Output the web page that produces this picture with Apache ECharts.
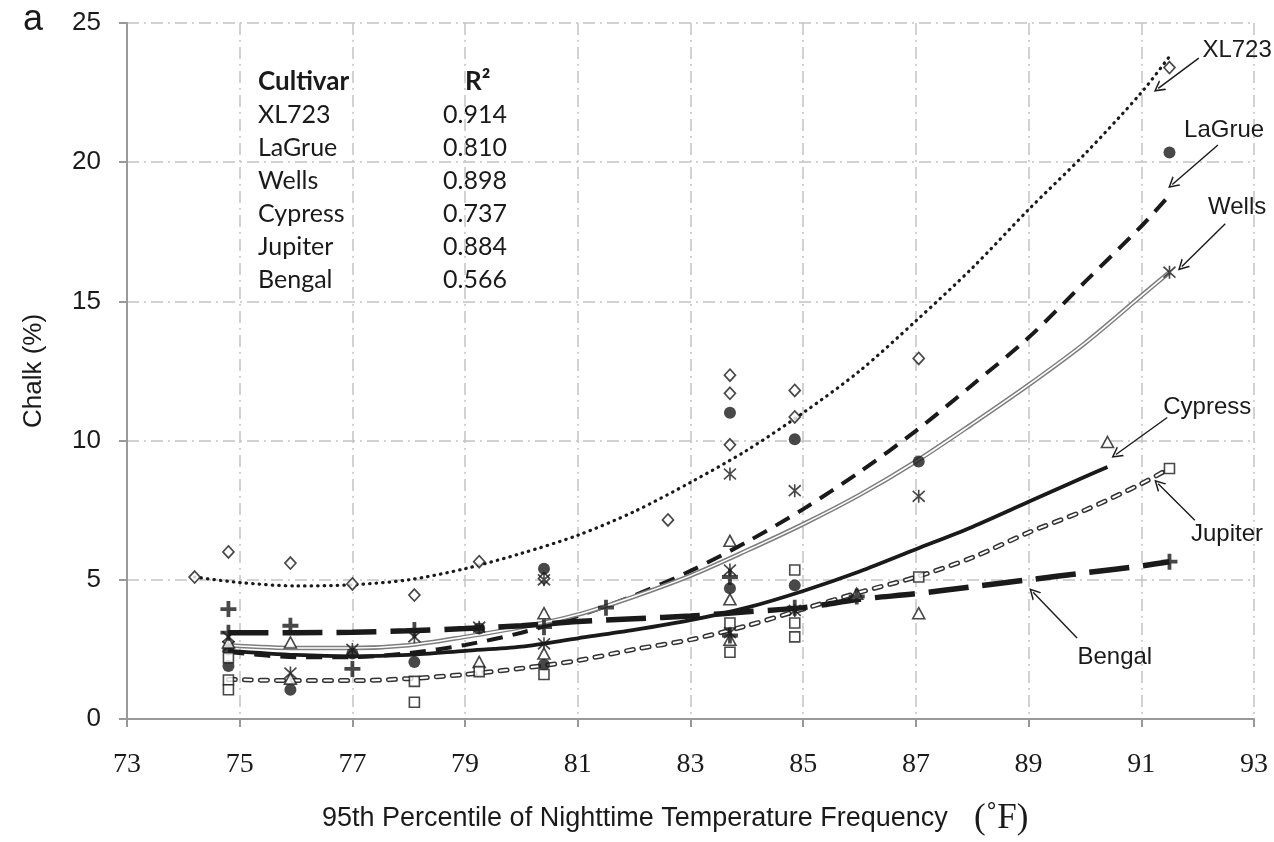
<!DOCTYPE html>
<html>
<head>
<meta charset="utf-8">
<title>Chalk vs nighttime temperature</title>
<script src="https://cdn.jsdelivr.net/npm/echarts@6/dist/echarts.min.js"></script>
<style>
  html, body { margin: 0; padding: 0; background: #fff; }
  #main { width: 1274px; height: 842px; }
</style>
</head>
<body>
<div id="main"></div>
<script>
// inset table
var cultivars = ['XL723', 'LaGrue', 'Wells', 'Cypress', 'Jupiter', 'Bengal'];
var r2Values = ['0.914', '0.810', '0.898', '0.737', '0.884', '0.566'];

// axis ticks
var xTicks = [73, 75, 77, 79, 81, 83, 85, 87, 89, 91, 93];
var yTicks = [0, 5, 10, 15, 20, 25];

// observed chalk (%) per cultivar, [temp, chalk]
var xl723Pts = [[74.2, 5.1], [74.8, 6.0], [75.9, 5.6], [77.0, 4.85], [78.1, 4.45], [79.25, 5.65], [80.4, 5.05],
    [82.6, 7.15], [83.7, 12.35], [83.7, 11.7], [83.7, 9.85], [84.85, 11.8], [84.85, 10.85], [87.05, 12.95], [91.5, 23.4]];
var lagruePts = [[74.8, 1.9], [74.8, 2.5], [75.9, 1.05], [77.0, 2.35], [78.1, 2.05], [79.25, 3.25], [80.4, 5.4], [80.4, 1.95],
    [83.7, 11.0], [83.7, 4.7], [84.85, 10.05], [84.85, 4.8], [87.05, 9.25], [91.5, 20.35]];
var wellsPts = [[74.8, 2.95], [74.8, 2.6], [75.9, 1.65], [77.0, 2.5], [78.1, 2.95], [79.25, 3.3], [80.4, 5.0], [80.4, 2.7],
    [83.7, 8.8], [83.7, 5.35], [83.7, 3.1], [84.85, 8.2], [84.85, 3.9], [87.05, 8.0], [91.5, 16.05]];
var cypressPts = [[74.8, 2.75], [75.9, 2.75], [75.9, 1.45], [79.25, 2.05], [80.4, 3.8], [80.4, 2.35], [83.7, 6.4], [83.7, 4.3],
    [83.7, 2.85], [85.95, 4.5], [87.05, 3.8], [90.4, 9.95]];
var jupiterPts = [[74.8, 2.2], [74.8, 1.4], [74.8, 1.05], [78.1, 1.35], [78.1, 0.6], [79.25, 1.7], [80.4, 1.6], [83.7, 3.45],
    [83.7, 2.4], [84.85, 5.35], [84.85, 3.45], [84.85, 2.95], [87.05, 5.1], [91.5, 9.0]];
var bengalPts = [[74.8, 3.95], [74.8, 3.1], [75.9, 3.35], [77.0, 1.8], [78.1, 3.2], [80.4, 3.3], [81.5, 4.0], [83.7, 5.1],
    [83.7, 3.0], [84.85, 4.0], [85.95, 4.4], [91.5, 5.65]];

// fitted trend curves
var xl723Fit = [[74.2, 5.1], [75, 4.9], [76, 4.78], [77, 4.82], [78, 5.0], [79, 5.4], [80, 5.95], [81, 6.6], [82, 7.45],
    [83, 8.5], [84, 9.65], [85, 11.0], [86, 12.5], [87, 14.3], [88, 16.2], [89, 18.3], [90, 20.3], [91, 22.5], [91.5, 23.8]];
var lagrueFit = [[74.8, 2.41], [76, 2.22], [77, 2.22], [78, 2.37], [79, 2.66], [80, 3.1], [81, 3.7], [82, 4.44], [83, 5.32],
    [84, 6.36], [85, 7.54], [86, 8.87], [87, 10.35], [88, 12.0], [89, 13.7], [90, 15.7], [91, 17.7], [91.45, 18.7]];
var wellsFit = [[74.8, 2.65], [76, 2.55], [77, 2.55], [78, 2.65], [79, 2.95], [80, 3.3], [81, 3.75], [82, 4.4], [83, 5.15],
    [84, 6.05], [85, 7.0], [86, 8.05], [87, 9.25], [88, 10.6], [89, 12.0], [90, 13.5], [91, 15.2], [91.5, 16.05]];
var cypressFit = [[74.8, 2.45], [76, 2.3], [77, 2.25], [78, 2.3], [79, 2.45], [80, 2.6], [81, 2.9], [82, 3.2], [83, 3.55],
    [84, 4.0], [85, 4.6], [86, 5.3], [87, 6.1], [88, 6.9], [89, 7.8], [90, 8.7], [90.4, 9.05]];
var jupiterFit = [[74.8, 1.42], [76, 1.38], [77, 1.38], [78, 1.45], [79, 1.6], [80, 1.82], [81, 2.1], [82, 2.5], [83, 2.85],
    [84, 3.35], [85, 3.95], [86, 4.55], [87, 5.1], [88, 5.8], [89, 6.7], [90, 7.5], [91, 8.45], [91.5, 9.0]];
var bengalFit = [[74.8, 3.1], [76, 3.1], [77, 3.12], [78, 3.17], [79, 3.25], [80, 3.35], [81, 3.5], [82, 3.6], [83, 3.7],
    [84, 3.85], [85, 4.0], [86, 4.3], [87, 4.5], [88, 4.75], [89, 5.0], [90, 5.25], [91, 5.5], [91.5, 5.65]];

var INK = '#1a1a1a';
var arrowHead = 'path://M0,10 L5,0 L10,10 L8.6,10 L5,2.8 L1.4,10 Z';

// callout: label position, arrow start, arrow end (data coords)
function callout(name, textAt, from, to) {
    return {
        markLine: {
            silent: true, animation: false,
            symbol: ['none', arrowHead], symbolSize: [12, 11],
            lineStyle: { color: INK, width: 1.4, type: 'solid' },
            label: { show: false },
            data: [[{ coord: from }, { coord: to }]]
        },
        markPoint: {
            silent: true, animation: false,
            symbol: 'circle', symbolSize: 1,
            itemStyle: { color: 'rgba(0,0,0,0)' },
            label: { show: true, position: 'inside', formatter: name, color: INK, fontSize: 24, fontFamily: 'Liberation Sans' },
            data: [{ coord: textAt }]
        }
    };
}

function fitSeries(name, data, lineStyle, extra) {
    var s = {
        name: name, type: 'line', data: data, smooth: 0.3, showSymbol: false, symbol: 'none',
        lineStyle: lineStyle, z: 2, silent: true, animation: false
    };
    if (extra) { for (var k in extra) s[k] = extra[k]; }
    return s;
}

function pointSeries(name, data, symbol, size, itemStyle) {
    return { name: name, type: 'scatter', data: data, symbol: symbol, symbolSize: size, itemStyle: itemStyle, z: 4, animation: false };
}

var series = [
    fitSeries('XL723 fit', xl723Fit, { color: INK, width: 3.2, type: [0.5, 6], cap: 'round' },
        callout('XL723', [92.7, 24.03], [92.02, 23.74], [91.3, 22.65])),
    fitSeries('LaGrue fit', lagrueFit, { color: INK, width: 4, type: [16, 10] },
        callout('LaGrue', [92.47, 21.16], [92.36, 20.62], [91.55, 19.2])),
    fitSeries('Wells fit outer', wellsFit, { color: '#7d7d7d', width: 4.5 },
        callout('Wells', [92.7, 18.36], [92.49, 17.79], [91.72, 16.25])),
    fitSeries('Wells fit inner', wellsFit, { color: '#ffffff', width: 1.6 }),
    fitSeries('Cypress fit', cypressFit, { color: INK, width: 3.8 },
        callout('Cypress', [92.17, 11.19], [91.46, 10.83], [90.55, 9.5])),
    fitSeries('Jupiter fit outer', jupiterFit, { color: '#333', width: 5, type: [7, 9], cap: 'round' },
        callout('Jupiter', [92.52, 6.64], [91.95, 7.14], [91.3, 8.45])),
    fitSeries('Jupiter fit inner', jupiterFit, { color: '#ffffff', width: 2, type: [7, 9], cap: 'round' }),
    fitSeries('Bengal fit', bengalFit, { color: INK, width: 5.5, type: [40, 14] },
        callout('Bengal', [90.53, 2.22], [89.86, 2.91], [89.08, 4.55])),

    pointSeries('XL723', xl723Pts, 'diamond', [11, 12], { color: '#fff', borderColor: INK, borderWidth: 1.7 }),
    pointSeries('LaGrue', lagruePts, 'circle', 12, { color: INK }),
    pointSeries('Wells', wellsPts, 'path://M0,0L10,10M10,0L0,10M5,-1L5,11', [12, 13],
        { color: 'none', borderColor: INK, borderWidth: 1.7 }),
    pointSeries('Cypress', cypressPts, 'triangle', [12, 11], { color: '#fff', borderColor: INK, borderWidth: 1.6 }),
    pointSeries('Jupiter', jupiterPts, 'rect', 10, { color: '#fff', borderColor: INK, borderWidth: 1.6 }),
    pointSeries('Bengal', bengalPts, 'path://M5,0L5,10M0,5L10,5', 16, { color: 'none', borderColor: INK, borderWidth: 3.8 })
];

// inset table text
var tableText = [
    { type: 'text', left: 258, top: 69, style: { text: 'Cultivar', font: 'bold 26px Lato', fill: INK } },
    { type: 'text', left: 465, top: 69, style: { text: 'R²', font: 'bold 26px Lato', fill: INK } }
];
cultivars.forEach(function (c, i) {
    tableText.push({ type: 'text', left: 258, top: 102 + i * 33, style: { text: c, font: '25px Lato', fill: INK } });
    tableText.push({ type: 'text', left: 443, top: 102 + i * 33, style: { text: r2Values[i], font: '25px Lato', fill: INK } });
});

var gridLine = { show: true, lineStyle: { color: '#c4c4c4', width: 1.5, type: [12, 5, 2, 5] } };
var axisLine = { show: true, lineStyle: { color: '#999', width: 2 } };

var option = {
    backgroundColor: '#fff',
    animation: false,
    grid: { left: 127, right: 20, top: 23, bottom: 123 },
    xAxis: {
        type: 'value',
        min: xTicks[0], max: xTicks[xTicks.length - 1], interval: xTicks[1] - xTicks[0],
        axisLine: axisLine,
        axisTick: { show: true, length: 8, lineStyle: { color: '#999', width: 2 } },
        axisLabel: { margin: 32, fontSize: 28, fontFamily: 'Liberation Serif', color: INK },
        splitLine: gridLine
    },
    yAxis: {
        type: 'value',
        min: yTicks[0], max: yTicks[yTicks.length - 1], interval: yTicks[1] - yTicks[0],
        name: 'Chalk (%)', nameLocation: 'middle', nameGap: 80, nameRotate: 90,
        nameTextStyle: { fontSize: 26, fontFamily: 'Liberation Sans', color: INK },
        axisLine: axisLine,
        axisTick: { show: true, length: 8, lineStyle: { color: '#999', width: 2 } },
        axisLabel: { margin: 26, fontSize: 26, fontFamily: 'Liberation Sans', color: INK },
        splitLine: gridLine
    },
    graphic: tableText.concat([
        { type: 'text', left: 23, top: 2, style: { text: 'a', font: '36px "Liberation Sans"', fill: INK } },
        {
            type: 'text', left: 322, top: 801,
            style: {
                text: '{a|95th Percentile of Nighttime Temperature Frequency}{b|   (˚F)}',
                rich: {
                    a: { fontSize: 27, fontFamily: 'Liberation Sans', fill: INK },
                    b: { fontSize: 35, fontFamily: 'Liberation Serif', fill: INK }
                }
            }
        }
    ]),
    series: series
};

var chart = echarts.init(document.getElementById('main'));
chart.setOption(option);
</script>
</body>
</html>
